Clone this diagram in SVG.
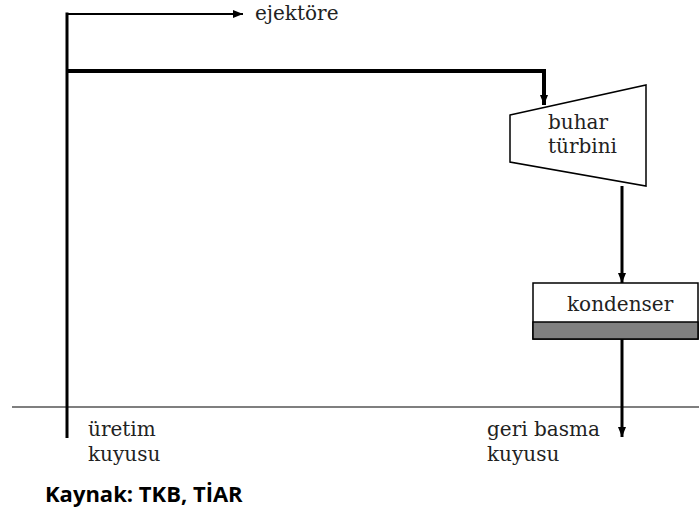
<svg xmlns="http://www.w3.org/2000/svg" width="699" height="511" viewBox="0 0 699 511">
  <style>
    text.lbl { font-family: "DejaVu Serif", "Liberation Serif", serif; font-size: 20px; fill: #222; }
    text.src { font-family: "Open Sans", "Liberation Sans", sans-serif; font-size: 22px; font-weight: bold; fill: #000; }
    .pipe { fill: none; stroke: #000; stroke-linecap: butt; }
  </style>
  <defs>
    <marker id="arr" viewBox="0 0 10 10" refX="10" refY="5" markerWidth="10" markerHeight="10" markerUnits="userSpaceOnUse" orient="auto">
      <path d="M0,1 L10,5 L0,9 Z" fill="#000"/>
    </marker>
  </defs>

  <!-- ground surface -->
  <line x1="12" y1="407" x2="699" y2="407" stroke="#000" stroke-width="1.2"/>

  <g id="connectors">
    <!-- production well riser -->
    <line class="pipe" x1="67" y1="12.5" x2="67" y2="438" stroke-width="3"/>
    <!-- branch to ejector -->
    <line class="pipe" x1="66" y1="14" x2="243" y2="14" stroke-width="2" marker-end="url(#arr)"/>
    <!-- steam line to turbine -->
    <polyline class="pipe" points="67,71 544,71 544,105" stroke-width="4" marker-end="url(#arr)"/>
    <!-- turbine exhaust to condenser -->
    <line class="pipe" x1="622" y1="186" x2="622" y2="283" stroke-width="3" marker-end="url(#arr)"/>
    <!-- condensate to reinjection well -->
    <line class="pipe" x1="622" y1="339" x2="622" y2="437" stroke-width="3" marker-end="url(#arr)"/>
  </g>

  <g id="ejektore">
    <text class="lbl" x="255" y="20">ejektöre</text>
  </g>

  <g id="turbine">
    <polygon points="510,115 646,85 646,186 510,162" fill="#fff" stroke="#000" stroke-width="1.5"/>
    <text class="lbl" x="548" y="129" font-size="19">buhar</text>
    <text class="lbl" x="548" y="153" font-size="19">türbini</text>
  </g>

  <g id="condenser">
    <rect x="533" y="283" width="165" height="56" fill="#fff" stroke="#000" stroke-width="1.5"/>
    <rect x="533" y="322" width="165" height="17" fill="#808080" stroke="#000" stroke-width="1.5"/>
    <text class="lbl" x="567" y="311">kondenser</text>
  </g>

  <g id="uretim-kuyusu">
    <text class="lbl" x="88" y="436">üretim</text>
    <text class="lbl" x="88" y="461">kuyusu</text>
  </g>

  <g id="geri-basma-kuyusu">
    <text class="lbl" x="487" y="436">geri basma</text>
    <text class="lbl" x="487" y="461">kuyusu</text>
  </g>

  <text class="src" x="45" y="502">Kaynak: TKB, TİAR</text>
</svg>
